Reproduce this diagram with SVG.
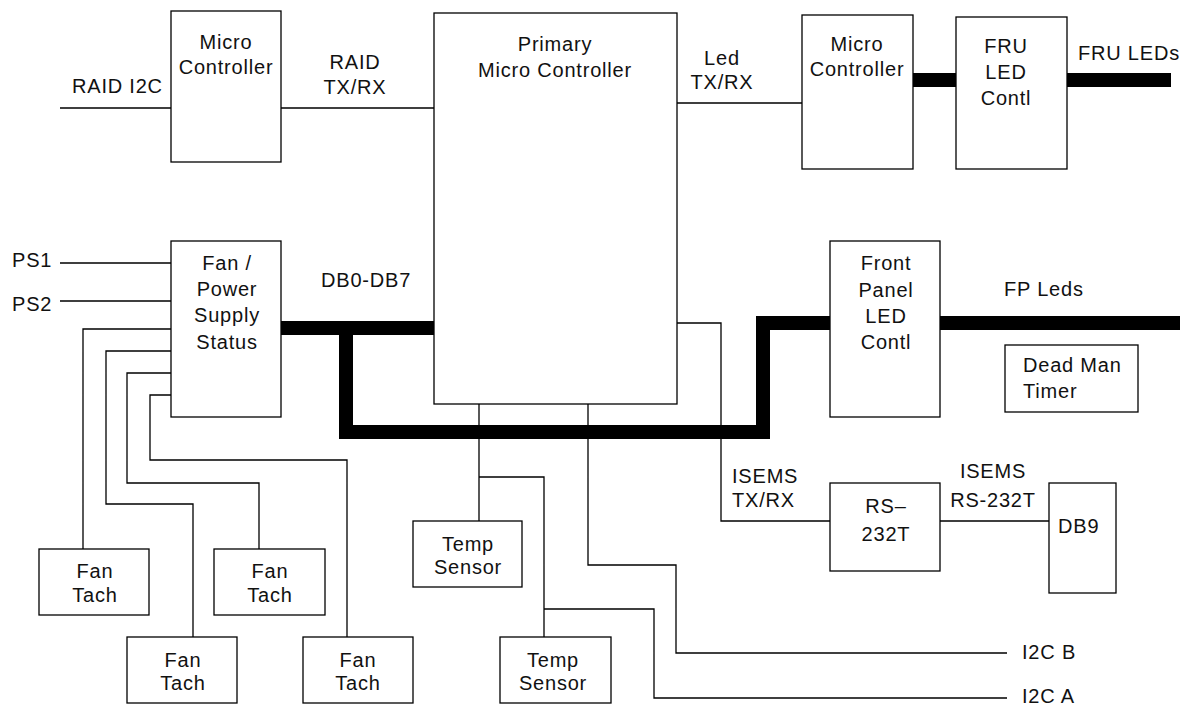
<svg xmlns="http://www.w3.org/2000/svg" width="1197" height="707" viewBox="0 0 1197 707">
<style>
.box{fill:#fff;stroke:#000;stroke-width:1.3}
.w{fill:none;stroke:#000;stroke-width:1.3}
.bus{fill:none;stroke:#000;stroke-width:14;stroke-linejoin:miter;stroke-linecap:butt}
text{font-family:"Liberation Sans",Arial,sans-serif;font-size:20px;letter-spacing:0.8px;fill:#111}
.c{text-anchor:middle}
</style>
<rect width="1197" height="707" fill="#fff"/>
<g id="connectors">
<path class="w" d="M60,108H171M281,108H434M677,103H802M60,263H171M60,301H171"/>
<path class="w" d="M171,329H83V549M171,351H106V504H193V637M171,373H127V483H259V549M171,395H150V460H347V637"/>
<path class="w" d="M677,323H721V521H830M940,521H1049"/>
<path class="w" d="M479,404V521M479,477H544V637M544,609H654V698H1007M588,404V565H676V653H1007"/>
<path class="bus" d="M281,328H434M346,328V432H763V323H830M940,323H1180M913,80H956M1067,80H1171"/>
</g>
<g id="micro-left"><rect class="box" x="171" y="11" width="110" height="151"/><text class="c" x="226" y="49">Micro</text><text class="c" x="226" y="74">Controller</text></g>
<g id="primary"><rect class="box" x="434" y="13" width="243" height="391"/><text class="c" x="555" y="51">Primary</text><text class="c" x="555" y="77">Micro Controller</text></g>
<g id="micro-right"><rect class="box" x="802" y="15" width="111" height="154"/><text class="c" x="857" y="51">Micro</text><text class="c" x="857" y="76">Controller</text></g>
<g id="fru"><rect class="box" x="956" y="17" width="111" height="152"/><text class="c" x="1006" y="53">FRU</text><text class="c" x="1006" y="79">LED</text><text class="c" x="1006" y="105">Contl</text></g>
<g id="fan-power"><rect class="box" x="171" y="241" width="110" height="176"/><text class="c" x="227" y="270">Fan /</text><text class="c" x="227" y="296">Power</text><text class="c" x="227" y="322">Supply</text><text class="c" x="227" y="349">Status</text></g>
<g id="front-panel"><rect class="box" x="830" y="241" width="110" height="176"/><text class="c" x="886" y="270">Front</text><text class="c" x="886" y="297">Panel</text><text class="c" x="886" y="323">LED</text><text class="c" x="886" y="349">Contl</text></g>
<g id="dead-man"><rect class="box" x="1005" y="345" width="133" height="67"/><text x="1023" y="372">Dead Man</text><text x="1023" y="398">Timer</text></g>
<g id="rs232"><rect class="box" x="830" y="483" width="110" height="88"/><text class="c" x="886" y="513">RS–</text><text class="c" x="886" y="541">232T</text></g>
<g id="db9"><rect class="box" x="1049" y="483" width="67" height="110"/><text x="1058" y="533">DB9</text></g>
<g id="fan-tach-1"><rect class="box" x="39" y="549" width="110" height="66"/><text class="c" x="95" y="578">Fan</text><text class="c" x="95" y="602">Tach</text></g>
<g id="fan-tach-2"><rect class="box" x="127" y="637" width="110" height="66"/><text class="c" x="183" y="667">Fan</text><text class="c" x="183" y="690">Tach</text></g>
<g id="fan-tach-3"><rect class="box" x="214" y="549" width="111" height="66"/><text class="c" x="270" y="578">Fan</text><text class="c" x="270" y="602">Tach</text></g>
<g id="fan-tach-4"><rect class="box" x="303" y="637" width="110" height="66"/><text class="c" x="358" y="667">Fan</text><text class="c" x="358" y="690">Tach</text></g>
<g id="temp-1"><rect class="box" x="413" y="521" width="109" height="66"/><text class="c" x="468" y="551">Temp</text><text class="c" x="468" y="574">Sensor</text></g>
<g id="temp-2"><rect class="box" x="500" y="637" width="111" height="66"/><text class="c" x="553" y="667">Temp</text><text class="c" x="553" y="690">Sensor</text></g>
<g id="labels">
<text x="72" y="93">RAID I2C</text>
<text class="c" x="355" y="69">RAID</text><text class="c" x="355" y="94">TX/RX</text>
<text class="c" x="722" y="65">Led</text><text class="c" x="722" y="89">TX/RX</text>
<text x="1078" y="60">FRU LEDs</text>
<text x="12" y="267">PS1</text><text x="12" y="311">PS2</text>
<text x="321" y="287">DB0-DB7</text>
<text x="1004" y="296">FP Leds</text>
<text x="732" y="483">ISEMS</text><text x="732" y="507">TX/RX</text>
<text class="c" x="993" y="478">ISEMS</text><text class="c" x="993" y="507">RS-232T</text>
<text x="1022" y="659">I2C B</text><text x="1022" y="703">I2C A</text>
</g>
</svg>
